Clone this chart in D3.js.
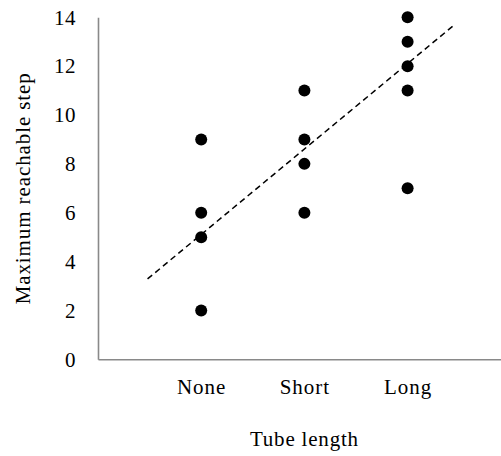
<!DOCTYPE html>
<html>
<head>
<meta charset="utf-8">
<script src="https://cdn.jsdelivr.net/npm/d3@7"></script>
<style>
  html, body { margin: 0; padding: 0; background: #fff; }
  svg { display: block; }
  text { font-family: "Liberation Serif", "Times New Roman", serif; fill: #000; }
</style>
</head>
<body>
<div id="chart"></div>
<script>
// ---- data ----
const categories = ["None", "Short", "Long"];
const categoryX = [1, 2, 3];
const noneValues = [9, 6, 5, 2];
const shortValues = [11, 9, 8, 6];
const longValues = [14, 13, 12, 11, 7];
const yTicks = [0, 2, 4, 6, 8, 10, 12, 14];
const trendX = [0.48, 3.45];
const trendY = [3.29, 13.68];
const xTitle = "Tube length";
const yTitle = "Maximum reachable step";

// ---- layout ----
const W = 501, H = 456;
const svg = d3.select("#chart").append("svg").attr("width", W).attr("height", H);

const x = d3.scaleLinear().domain([0, 4]).range([98, 510.8]);
const y = d3.scaleLinear().domain([0, 14]).range([359.3, 17.3]);

const fontSize = 21;
const axisColor = "#898989";

// y axis
const gy = svg.append("g").attr("transform", `translate(${x(0)},0)`)
  .call(d3.axisLeft(y).tickValues(yTicks).tickSize(0).tickPadding(22).tickFormat(d3.format("d")));
gy.select(".domain").attr("stroke", axisColor).attr("stroke-width", 1.6);
gy.selectAll("text").attr("font-size", fontSize).attr("font-family", "Liberation Serif").attr("letter-spacing", "0.5px");

// x axis
const gx = svg.append("g").attr("transform", `translate(0,${y(0)})`)
  .call(d3.axisBottom(x).tickValues(categoryX).tickSize(0).tickPadding(20)
    .tickFormat((d, i) => categories[i]));
gx.select(".domain").attr("stroke", axisColor).attr("stroke-width", 1.6);
gx.selectAll("text").attr("font-size", fontSize).attr("font-family", "Liberation Serif").attr("letter-spacing", "1px");

// trend line
svg.append("path")
  .datum(trendX.map((v, i) => [v, trendY[i]]))
  .attr("fill", "none")
  .attr("stroke", "#000")
  .attr("stroke-width", 1.5)
  .attr("stroke-dasharray", "6,4")
  .attr("d", d3.line().x(d => x(d[0])).y(d => y(d[1])));

// points
const series = [noneValues, shortValues, longValues];
const pts = [];
series.forEach((vals, i) => vals.forEach(v => pts.push([categoryX[i], v])));
svg.append("g").selectAll("circle").data(pts).join("circle")
  .attr("cx", d => x(d[0]))
  .attr("cy", d => y(d[1]))
  .attr("r", 6)
  .attr("fill", "#000");

// axis titles
svg.append("text")
  .attr("x", (x.range()[0] + x.range()[1]) / 2)
  .attr("y", 446)
  .attr("text-anchor", "middle")
  .attr("font-size", fontSize)
  .attr("letter-spacing", "0.8px")
  .text(xTitle);

svg.append("text")
  .attr("transform", `translate(30,${(y.range()[0] + y.range()[1]) / 2}) rotate(-90)`)
  .attr("text-anchor", "middle")
  .attr("font-size", fontSize)
  .attr("letter-spacing", "0.9px")
  .text(yTitle);
</script>
</body>
</html>
